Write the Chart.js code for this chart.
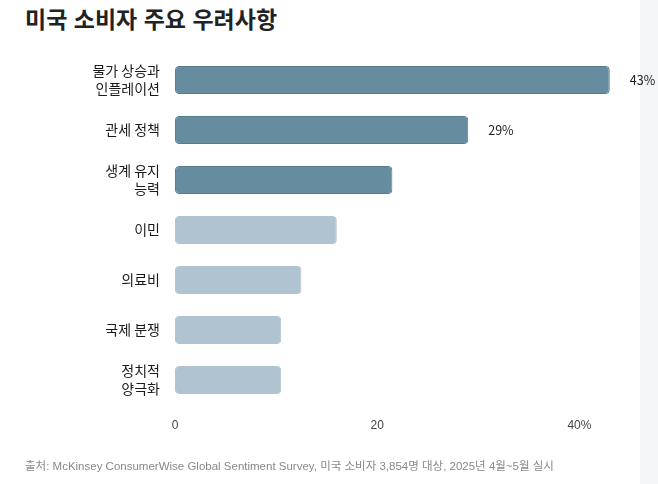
<!DOCTYPE html>
<html lang="ko">
<head>
<meta charset="utf-8">
<script src="https://cdn.jsdelivr.net/npm/chart.js@4.4.1/dist/chart.umd.min.js"></script>
<style>
  html, body { margin: 0; padding: 0; background: #fff; }
  #page { position: relative; width: 658px; height: 484px; overflow: hidden; font-family: "Noto Sans CJK KR", "Noto Sans", sans-serif; }
  #strip { position: absolute; left: 640px; top: 0; width: 18px; height: 484px; background: #f4f5f7; }
  #title { position: absolute; left: 25px; top: 1px; font-size: 23px; font-weight: 700; color: #222; white-space: nowrap; }
  #source { position: absolute; left: 25px; top: 457px; font-size: 11.5px; color: #888; white-space: nowrap;
            font-family: "Liberation Sans", "Noto Sans CJK KR", sans-serif; }
  #wrap { position: absolute; left: 0; top: 0; width: 658px; height: 484px; }
</style>
</head>
<body>
<div id="page">
  <div id="strip"></div>
  <div id="title">미국 소비자 주요 우려사항</div>
  <div id="wrap"><canvas id="chart"></canvas></div>
  <div id="source">출처: McKinsey ConsumerWise Global Sentiment Survey, 미국 소비자 3,854명 대상, 2025년 4월~5월 실시</div>
</div>
<script>
const categories = [
  ["물가 상승과", "인플레이션"],
  "관세 정책",
  ["생계 유지", "능력"],
  "이민",
  "의료비",
  "국제 분쟁",
  ["정치적", "양극화"]
];
const shares = [43, 29, 21.5, 16, 12.5, 10.5, 10.5];
const highlighted = [true, true, true, false, false, false, false];
const showValue = [true, true, false, false, false, false, false];
const axisTicks = [0, 20, 40];

const darkFill = "#658d9f";
const darkBorder = "#557e90";
const lightFill = "#afc3d0";

// draws "43%" style labels to the right of the selected bars
const valueLabels = {
  id: "valueLabels",
  afterDatasetsDraw(chart) {
    const ctx = chart.ctx;
    const meta = chart.getDatasetMeta(0);
    ctx.save();
    ctx.font = "12.5px 'Noto Sans CJK KR', sans-serif";
    ctx.fillStyle = "#222";
    ctx.textAlign = "left";
    ctx.textBaseline = "middle";
    meta.data.forEach((bar, i) => {
      if (!showValue[i]) return;
      ctx.fillText(shares[i] + "%", bar.x + 20, bar.y);
    });
    ctx.restore();
  }
};

new Chart(document.getElementById("chart"), {
  type: "bar",
  data: {
    labels: categories,
    datasets: [{
      data: shares,
      backgroundColor: highlighted.map(h => h ? darkFill : lightFill),
      borderColor: highlighted.map(h => h ? darkBorder : lightFill),
      borderWidth: 1,
      borderRadius: 4,
      borderSkipped: false,
      barPercentage: 0.56,
      categoryPercentage: 1
    }]
  },
  options: {
    indexAxis: "y",
    responsive: true,
    maintainAspectRatio: false,
    animation: false,
    layout: { padding: { top: 55, right: 28, bottom: 49, left: 0 } },
    plugins: {
      legend: { display: false },
      tooltip: { enabled: false }
    },
    scales: {
      x: {
        min: 0,
        max: 45,
        grid: { display: false, drawTicks: false },
        border: { display: false },
        afterBuildTicks(axis) {
          axis.ticks = axisTicks.map(v => ({ value: v }));
        },
        afterFit(axis) { axis.height = 30; },
        ticks: {
          padding: 13,
          color: "#444",
          font: { size: 12, family: "'Liberation Sans', sans-serif" },
          callback: (v, i, ticks) => i === ticks.length - 1 ? v + "%" : v
        }
      },
      y: {
        grid: { display: false, drawTicks: false },
        border: { display: false },
        afterFit(axis) { axis.width = 175; },
        ticks: {
          padding: 15,
          color: "#1a1a1a",
          font: { size: 14, family: "'Noto Sans CJK KR', sans-serif", lineHeight: 1.3 }
        }
      }
    }
  },
  plugins: [valueLabels]
});
</script>
</body>
</html>
